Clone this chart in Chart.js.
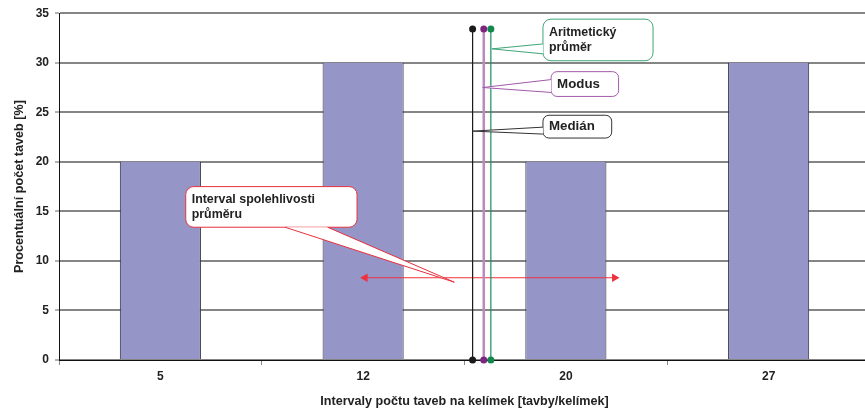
<!DOCTYPE html>
<html>
<head>
<meta charset="utf-8">
<script src="https://cdn.jsdelivr.net/npm/chart.js@4"></script>
<style>
    html, body { margin: 0; padding: 0; background: #ffffff; overflow: hidden; }
    #chartBox { width: 875px; height: 413px; }
</style>
</head>
<body>
<div id="chartBox"><canvas id="tavby" width="875" height="413"></canvas></div>
<script>
// categories and bar heights
const intervalLabels = ['5', '12', '20', '27'];
const percentTaveb = [20, 30, 20, 30];

// statistic markers, x in category index units (0 = "5", 1 = "12", ...)
const markerNames = ['Medián', 'Modus', 'Aritmetický průměr'];
const markerX = [1.54, 1.595, 1.63];
const markerTop = 33.4;
const markerLine = ['#1a1a1a', '#b98cc0', '#13945a'];
const markerDot = ['#1a1a1a', '#7d2680', '#13884c'];

// confidence interval of the mean
const ciFrom = [1.01, 8.3];
const ciTo = [2.24, 8.3];

// callout boxes: [left, top, right, bottom] and tip, in axis units
const callouts = [
    { text: ['Aritmetický', 'průměr'], size: 12.4, color: '#3fa577', box: [1.887, 34.4, 2.43, 30.2], base: [[1.887, 31.9], [1.887, 30.9]], tip: [1.635, 31.4], r: 8 },
    { text: ['Modus'], size: 13.3, color: '#a05aa8', box: [1.927, 29.1, 2.26, 26.6], base: [[1.927, 28.3], [1.927, 27.0]], tip: [1.59, 27.5], r: 6 },
    { text: ['Medián'], size: 13.3, color: '#333333', box: [1.887, 24.7, 2.226, 22.4], base: [[1.887, 23.5], [1.887, 22.8]], tip: [1.54, 23.1], r: 6 },
    { text: ['Interval spolehlivosti', 'průměru'], size: 12.4, color: '#e8303c', box: [0.125, 17.5, 0.97, 13.4], base: [[0.615, 13.4], [0.825, 13.4]], tip: [1.45, 7.85], r: 8 }
];

const calloutPlugin = {
    id: 'callouts',
    afterDatasetsDraw(chart) {
        const ctx = chart.ctx;
        const sx = chart.scales.x2, sy = chart.scales.y;
        const px = (p) => [sx.getPixelForValue(p[0]), sy.getPixelForValue(p[1])];
        ctx.save();
        callouts.forEach((c) => {
            const l = sx.getPixelForValue(c.box[0]), t = sy.getPixelForValue(c.box[1]);
            const r = sx.getPixelForValue(c.box[2]), b = sy.getPixelForValue(c.box[3]);
            const b1 = px(c.base[0]), b2 = px(c.base[1]), tp = px(c.tip);
            ctx.lineWidth = 1;
            ctx.strokeStyle = c.color;
            ctx.fillStyle = '#ffffff';
            // box
            ctx.beginPath();
            ctx.roundRect(l, t, r - l, b - t, c.r);
            ctx.fill();
            ctx.stroke();
            // pointer wedge, drawn over the box edge so it joins the box
            ctx.beginPath();
            ctx.moveTo(b1[0], b1[1]);
            ctx.lineTo(tp[0], tp[1]);
            ctx.lineTo(b2[0], b2[1]);
            ctx.closePath();
            ctx.fill();
            ctx.beginPath();
            ctx.moveTo(b1[0], b1[1]);
            ctx.lineTo(tp[0], tp[1]);
            ctx.lineTo(b2[0], b2[1]);
            ctx.stroke();
            // text
            ctx.fillStyle = '#222222';
            ctx.font = `bold ${c.size}px "Liberation Sans", Arial, sans-serif`;
            ctx.textBaseline = 'middle';
            ctx.textAlign = 'left';
            const lh = c.size + 3;
            const mid = (t + b) / 2;
            const y0 = mid - (c.text.length - 1) * lh / 2;
            c.text.forEach((s, i) => ctx.fillText(s, l + 6, y0 + i * lh));
        });
        ctx.restore();
    }
};

const tickFont = { family: '"Liberation Sans", Arial, sans-serif', size: 12, weight: 'bold' };
const titleFont = { family: '"Liberation Sans", Arial, sans-serif', size: 12.6, weight: 'bold' };

let datasets = [{
    type: 'bar',
    data: percentTaveb,
    backgroundColor: '#9595c8',
    borderColor: '#2e2e44',
    borderWidth: { left: 1, right: 1, top: 0, bottom: 0 },
    borderSkipped: false,
    grouped: false,
    categoryPercentage: 1,
    barPercentage: 0.4,
    xAxisID: 'x',
    order: 5
}];

markerX.forEach((mx, i) => {
    datasets.push({
        type: 'line',
        label: markerNames[i],
        data: [{ x: mx, y: 0 }, { x: mx, y: markerTop }],
        xAxisID: 'x2',
        borderColor: markerLine[i],
        borderWidth: i == 1 ? 2.5 : 1.2,
        pointRadius: 3.5,
        pointBackgroundColor: markerDot[i],
        pointBorderColor: markerDot[i],
        pointBorderWidth: 0,
        clip: false,
        order: 1
    });
});

datasets.push({
    type: 'line',
    label: 'Interval spolehlivosti',
    data: [{ x: ciFrom[0], y: ciFrom[1] }, { x: ciTo[0], y: ciTo[1] }],
    xAxisID: 'x2',
    borderColor: '#f0303c',
    borderWidth: 1,
    pointStyle: 'triangle',
    pointRadius: 5,
    pointRotation: [-90, 90],
    pointBackgroundColor: '#f0303c',
    pointBorderColor: '#f0303c',
    pointBorderWidth: 0,
    order: 2
});

new Chart(document.getElementById('tavby'), {
    type: 'bar',
    data: { labels: intervalLabels, datasets: datasets },
    plugins: [calloutPlugin],
    options: {
        responsive: false,
        animation: false,
        devicePixelRatio: 1,
        layout: { padding: { top: 11, right: 0, left: 0, bottom: 0 } },
        plugins: { legend: { display: false }, tooltip: { enabled: false } },
        scales: {
            x: {
                type: 'category',
                offset: true,
                border: { color: '#111111', width: 1 },
                grid: { offset: true, drawOnChartArea: false, drawTicks: true, tickLength: 5, color: '#888888' },
                ticks: { color: '#222222', font: tickFont, padding: 4 },
                title: {
                    display: true,
                    text: 'Intervaly počtu taveb na kelímek [tavby/kelímek]',
                    color: '#222222',
                    font: titleFont,
                    padding: { top: 0, bottom: 4 }
                },
                afterFit: (scale) => { scale.height = 53; }
            },
            x2: {
                type: 'linear',
                display: false,
                offset: false,
                grid: { offset: false },
                min: -0.5,
                max: 3.5
            },
            y: {
                min: 0,
                max: 35,
                border: { color: '#111111', width: 1 },
                grid: { color: '#858585', lineWidth: 2, tickLength: 4, tickColor: '#666666', tickWidth: 1 },
                ticks: { stepSize: 5, color: '#222222', font: tickFont, padding: 6 },
                title: {
                    display: true,
                    text: 'Procentuální počet taveb [%]',
                    color: '#222222',
                    font: titleFont,
                    padding: { top: 12, bottom: 0 }
                },
                afterFit: (scale) => { scale.width = 59; }
            }
        }
    }
});
</script>
</body>
</html>
